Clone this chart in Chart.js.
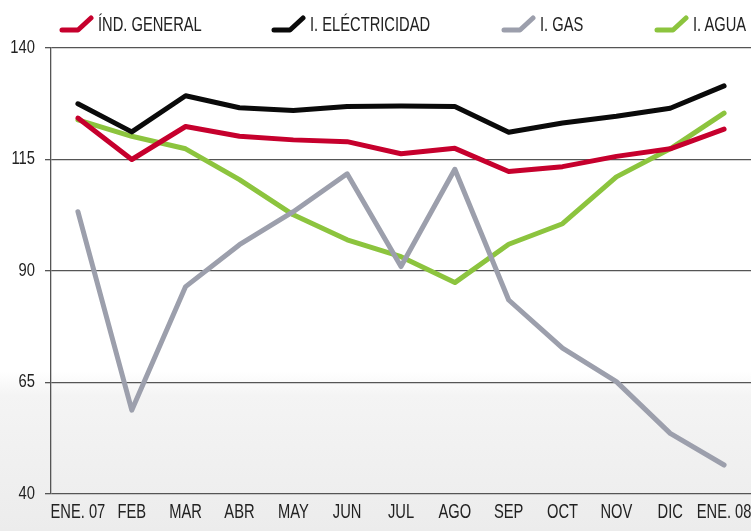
<!DOCTYPE html>
<html>
<head>
<meta charset="utf-8">
<script src="https://cdn.jsdelivr.net/npm/chart.js@4.4.0/dist/chart.umd.min.js"></script>
<style>
    html, body { margin: 0; padding: 0; }
    body {
        width: 751px; height: 531px; overflow: hidden; position: relative;
        background: linear-gradient(to bottom, #ffffff 0px, #ffffff 372px, #f4f4f4 395px, #ececec 531px);
        font-family: "Liberation Sans", Arial, sans-serif;
    }
    #wrap { position: absolute; left: 0; top: 0; width: 751px; height: 531px; }
    #legend { position: absolute; left: 0; top: 0; width: 751px; height: 44px; }
    .item { position: absolute; top: 12px; display: flex; align-items: center; font-size: 21px; color: #222; white-space: nowrap; }
    .item svg { display: block; margin-right: 4px; }
    /* the source uses a condensed face, squeeze the text to match */
    .item span { display: inline-block; transform: scaleX(0.7); transform-origin: left center; }
</style>
</head>
<body>
<div id="wrap"><canvas id="chart"></canvas></div>
<div id="legend"></div>
<script>
// Month labels along the bottom axis
const months = ['ENE. 07', 'FEB', 'MAR', 'ABR', 'MAY', 'JUN', 'JUL', 'AGO', 'SEP', 'OCT', 'NOV', 'DIC', 'ENE. 08'];

// Index values
const indGeneral   = [124.3, 115.0, 122.4, 120.2, 119.4, 119.0, 116.3, 117.5, 112.3, 113.4, 115.7, 117.4, 121.8];
const electricidad = [127.5, 121.2, 129.3, 126.6, 126.0, 126.9, 127.0, 126.9, 121.1, 123.2, 124.7, 126.5, 131.5];
const gas          = [103.3, 58.8, 86.5, 95.9, 103.3, 111.8, 91.0, 112.8, 83.5, 72.7, 65.2, 53.6, 46.5];
const agua         = [123.9, 120.2, 117.4, 110.5, 102.6, 97.0, 93.2, 87.4, 96.0, 100.6, 111.1, 117.4, 125.4];

// Y axis range and step
const yMin = 40;
const yMax = 140;
const yStep = 25;

const seriesNames = ['ÍND. GENERAL', 'I. ELÉCTRICIDAD', 'I. GAS', 'I. AGUA'];
const seriesColors = ['#c6002d', '#0a0a0a', '#9c9fac', '#8cc43e'];
const seriesData = [indGeneral, electricidad, gas, agua];

// left edge of each legend entry
const legendLeft = [58, 270, 500, 653];

const fontFamily = '"Liberation Sans", Arial, sans-serif';

const datasets = seriesData.map((values, i) => ({
    label: seriesNames[i],
    data: values,
    borderColor: seriesColors[i],
    backgroundColor: seriesColors[i],
    borderWidth: 5,
    pointRadius: 0,
    tension: 0,
    fill: false,
    borderJoinStyle: 'round',
    borderCapStyle: 'round'
}));

// build the legend as html so the hooked markers can be drawn
const legend = document.getElementById('legend');
datasets.forEach((ds, i) => {
    const item = document.createElement('div');
    item.className = 'item';
    item.style.left = legendLeft[i] + 'px';
    item.innerHTML =
        '<svg width="36" height="22" viewBox="0 0 36 22">' +
        '<path d="M4 17 L20 17 L33 5" fill="none" stroke="' + ds.borderColor + '" stroke-width="5" stroke-linecap="round" stroke-linejoin="round"/></svg>' +
        '<span>' + ds.label + '</span>';
    legend.appendChild(item);
});

// Chart.js has no condensed font here, so tick labels are drawn squeezed by this plugin
const condensedTicks = {
    id: 'condensedTicks',
    afterDraw(chart) {
        const ctx = chart.ctx;
        const xs = chart.scales.x;
        const ys = chart.scales.y;
        ctx.save();
        ctx.fillStyle = '#222';

        // x labels, centred under each category
        ctx.font = '21px ' + fontFamily;
        ctx.textAlign = 'center';
        ctx.textBaseline = 'middle';
        xs.ticks.forEach((t, i) => {
            ctx.save();
            ctx.translate(xs.getPixelForTick(i), xs.top + 18);
            ctx.scale(0.7, 1);
            ctx.fillText(t.label, 0, 0);
            ctx.restore();
        });

        // y labels, right aligned left of the tick marks
        ctx.font = '18px ' + fontFamily;
        ctx.textAlign = 'right';
        ys.ticks.forEach((t, i) => {
            ctx.save();
            ctx.translate(ys.right - 16, ys.getPixelForTick(i));
            ctx.scale(0.82, 1);
            ctx.fillText(t.label, 0, 0);
            ctx.restore();
        });
        ctx.restore();
    }
};

new Chart(document.getElementById('chart').getContext('2d'), {
    type: 'line',
    data: { labels: months, datasets },
    plugins: [condensedTicks],
    options: {
        responsive: true,
        maintainAspectRatio: false,
        animation: false,
        layout: { padding: { top: 48, right: 0, bottom: 0, left: 0 } },
        plugins: {
            legend: { display: false },
            tooltip: { enabled: false }
        },
        scales: {
            x: {
                offset: true,
                grid: { display: false },
                border: { display: false },
                ticks: { display: false, autoSkip: false, maxRotation: 0 },
                afterFit: (scale) => { scale.height = 37; }
            },
            y: {
                min: yMin,
                max: yMax,
                ticks: { display: false, stepSize: yStep },
                grid: { color: '#555', lineWidth: 1.3, tickLength: 6, drawTicks: true },
                border: { display: true, color: '#555', width: 1.3 },
                afterFit: (scale) => { scale.width = 51; }
            }
        }
    }
});
</script>
</body>
</html>
